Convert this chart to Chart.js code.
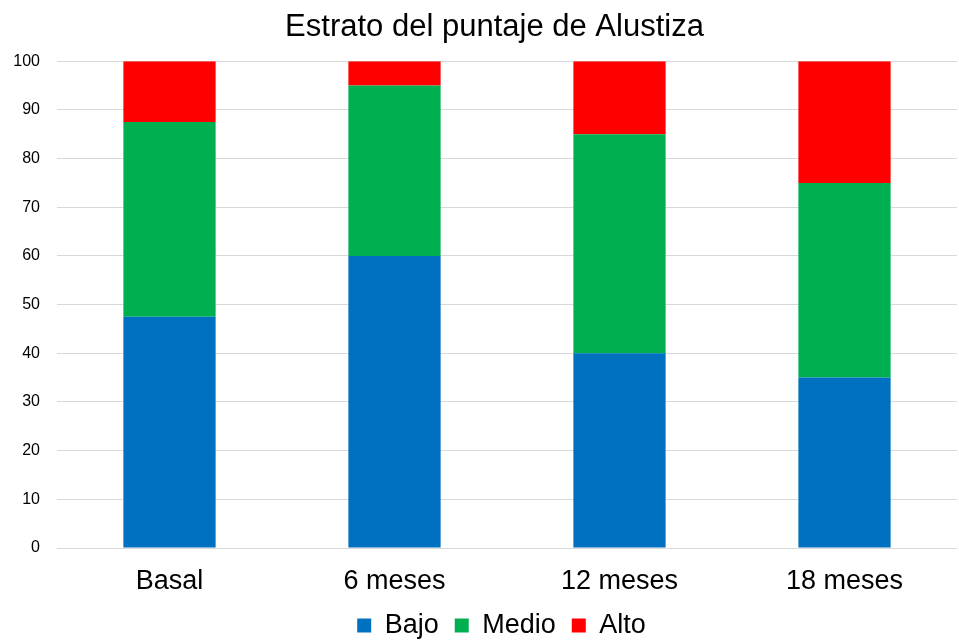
<!DOCTYPE html>
<html>
<head>
<meta charset="utf-8">
<script src="https://cdn.jsdelivr.net/npm/chart.js@4"></script>
<style>
  html, body { margin: 0; padding: 0; background: #fff; }
  #wrap { width: 959px; height: 641px; }
</style>
</head>
<body>
<div id="wrap"><canvas id="c" width="959" height="641"></canvas></div>
<script>
const categories = ['Basal', '6 meses', '12 meses', '18 meses'];
const bajo = [47.5, 60, 40, 35];
const medio = [40, 35, 45, 40];
const alto = [12.5, 5, 15, 25];
const yTicks = [0, 10, 20, 30, 40, 50, 60, 70, 80, 90, 100];

const font = "'Liberation Sans', Arial, sans-serif";

// legend and title sit centred over the plot area, not the whole canvas
const placeBlocks = {
  id: 'placeBlocks',
  beforeInit(chart) {
    const legend = chart.legend;
    if (!legend || legend._fixed) return;
    const fit = legend.fit;
    legend.fit = function () {
      fit.call(this);
      this.height = 34.6;
    };
    legend._fixed = true;
  },
  afterLayout(chart) {
    const legend = chart.legend;
    legend.top = 596; // only move the top edge: the legend clips to its own box
    legend.left += 22;
    legend.right += 22;
    const title = chart.titleBlock;
    title.left += 15;
    title.right += 15;
  }
};

new Chart(document.getElementById('c'), {
  type: 'bar',
  data: {
    labels: categories,
    datasets: [
      { label: 'Bajo', data: bajo, backgroundColor: '#0070C0' },
      { label: 'Medio', data: medio, backgroundColor: '#00B050' },
      { label: 'Alto', data: alto, backgroundColor: '#FF0000' }
    ]
  },
  options: {
    responsive: false,
    animation: false,
    layout: { padding: { left: 2, right: 2, top: 0, bottom: 0 } },
    datasets: { bar: { categoryPercentage: 1, barPercentage: 0.41 } },
    plugins: {
      title: {
        display: true,
        text: 'Estrato del puntaje de Alustiza',
        color: '#000',
        font: { family: font, size: 31, weight: 'normal' },
        padding: { top: 9, bottom: 15 }
      },
      legend: {
        position: 'bottom',
        labels: {
          color: '#000',
          font: { family: font, size: 27 },
          boxWidth: 14,
          boxHeight: 14,
          padding: 16
        }
      },
      tooltip: { enabled: false }
    },
    scales: {
      x: {
        stacked: true,
        grid: { display: false },
        border: { display: false },
        ticks: { color: '#000', font: { family: font, size: 27 }, padding: 9 }
      },
      y: {
        stacked: true,
        min: 0,
        max: 100,
        afterBuildTicks: axis => { axis.ticks = yTicks.map(v => ({ value: v })); },
        afterFit: axis => { axis.width = 55; },
        grid: { color: '#d9d9d9', lineWidth: 1, drawTicks: true, tickLength: 0 },
        border: { display: false },
        ticks: { color: '#000', font: { family: font, size: 16 }, padding: 17 }
      }
    }
  },
  plugins: [placeBlocks]
});
</script>
</body>
</html>
